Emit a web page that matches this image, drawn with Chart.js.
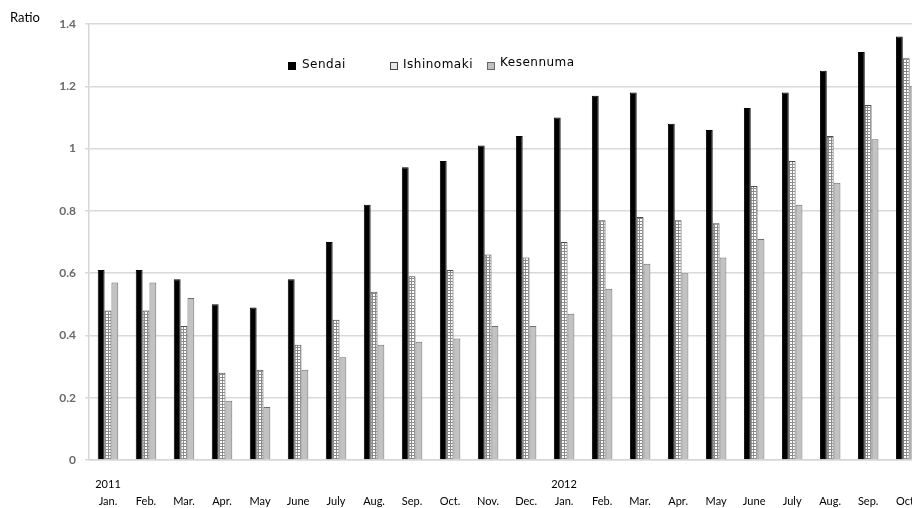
<!DOCTYPE html>
<html>
<head>
<meta charset="utf-8">
<script src="https://cdn.jsdelivr.net/npm/chart.js@4.4.1/dist/chart.umd.min.js"></script>
<style>
  html, body { margin: 0; padding: 0; background: #fff; overflow: hidden; }
  #wrap { position: relative; width: 912px; height: 508px; overflow: hidden; }
  #chart { position: absolute; left: 0; top: 0; }
  #ratio { position: absolute; left: 10px; top: 9px; font: 13px Lato, sans-serif; color: #000; }
  .key { position: absolute; font: 12px "DejaVu Sans", sans-serif; letter-spacing: 0.5px; color: #000; white-space: nowrap; }
  .sw { position: absolute; width: 6px; height: 6px; border: 1px solid #000; }
</style>
</head>
<body>
<div id="wrap">
  <canvas id="chart" width="932" height="508"></canvas>
  <div id="ratio">Ratio</div>
  <div class="sw" style="left:288px;top:62px;background:#000;"></div>
  <div class="key" style="left:302px;top:57px;">Sendai</div>
  <div class="sw" style="left:390px;top:62px;background:#e8e8e8;border-color:#444;"></div>
  <div class="key" style="left:403px;top:57px;">Ishinomaki</div>
  <div class="sw" style="left:487px;top:62px;background:#c0c0c0;border-color:#666;"></div>
  <div class="key" style="left:500px;top:55px;">Kesennuma</div>
</div>
<script>
// months from Jan 2011 to Oct 2012
const months = ['Jan.', 'Feb.', 'Mar.', 'Apr.', 'May', 'June', 'July', 'Aug.', 'Sep.', 'Oct.', 'Nov.', 'Dec.',
                'Jan.', 'Feb.', 'Mar.', 'Apr.', 'May', 'June', 'July', 'Aug.', 'Sep.', 'Oct.'];
const years = ['2011', '', '', '', '', '', '', '', '', '', '', '',
               '2012', '', '', '', '', '', '', '', '', ''];

const sendai     = [0.61, 0.61, 0.58, 0.50, 0.49, 0.58, 0.70, 0.82, 0.94, 0.96, 1.01, 1.04,
                    1.10, 1.17, 1.18, 1.08, 1.06, 1.13, 1.18, 1.25, 1.31, 1.36];
const ishinomaki = [0.48, 0.48, 0.43, 0.28, 0.29, 0.37, 0.45, 0.54, 0.59, 0.61, 0.66, 0.65,
                    0.70, 0.77, 0.78, 0.77, 0.76, 0.88, 0.96, 1.04, 1.14, 1.29];
const kesennuma  = [0.57, 0.57, 0.52, 0.19, 0.17, 0.29, 0.33, 0.37, 0.38, 0.39, 0.43, 0.43,
                    0.47, 0.55, 0.63, 0.60, 0.65, 0.71, 0.82, 0.89, 1.03, 1.20];

const yTicks = [0, 0.2, 0.4, 0.6, 0.8, 1, 1.2, 1.4];

const labels = months.map((m, i) => [years[i], m]);

// small grid fill for the Ishinomaki bars
function gridPattern() {
  const c = document.createElement('canvas');
  c.width = 3; c.height = 3;
  const g = c.getContext('2d');
  g.fillStyle = '#ffffff';
  g.fillRect(0, 0, 3, 3);
  g.fillStyle = '#8a8a8a';
  g.fillRect(0, 2, 3, 1);
  g.fillRect(0, 0, 1, 3);
  return g.createPattern(c, 'repeat');
}

const ctx = document.getElementById('chart').getContext('2d');
new Chart(ctx, {
  type: 'bar',
  data: {
    labels: labels,
    datasets: [
      { label: 'Sendai', data: sendai, backgroundColor: '#000', borderColor: '#000', borderWidth: 1 },
      { label: 'Ishinomaki', data: ishinomaki, backgroundColor: gridPattern(), borderColor: '#4a4a4a', borderWidth: 1 },
      { label: 'Kesennuma', data: kesennuma, backgroundColor: '#c2c2c2', borderColor: '#6e6e6e', borderWidth: 1 }
    ]
  },
  options: {
    responsive: false,
    animation: false,
    layout: { padding: { top: 24, right: 2, left: 0, bottom: 0 } },
    datasets: { bar: { categoryPercentage: 0.54, barPercentage: 1 } },
    plugins: { legend: { display: false }, tooltip: { enabled: false } },
    scales: {
      x: {
        offset: true,
        grid: { display: false, drawTicks: false },
        border: { color: '#d6d6d6', width: 1.5 },
        ticks: {
          autoSkip: false, maxRotation: 0, padding: 15.5, color: '#000',
          font: { family: 'Lato', size: 11, lineHeight: '17px' }
        },
        afterFit: s => { s.height = 48; }
      },
      y: {
        min: 0, max: 1.4,
        afterBuildTicks: s => { s.ticks = yTicks.map(v => ({ value: v })); },
        grid: { color: '#dadada', lineWidth: 1.5, tickLength: 4 },
        border: { color: '#d6d6d6', width: 1.5 },
        ticks: {
          padding: 9, color: '#6a6a6a',
          font: { family: 'Lato', size: 12, weight: 'bold' },
          callback: v => String(Math.round(v * 10) / 10)
        },
        afterFit: s => { s.width = 89; }
      }
    }
  }
});
</script>
</body>
</html>
